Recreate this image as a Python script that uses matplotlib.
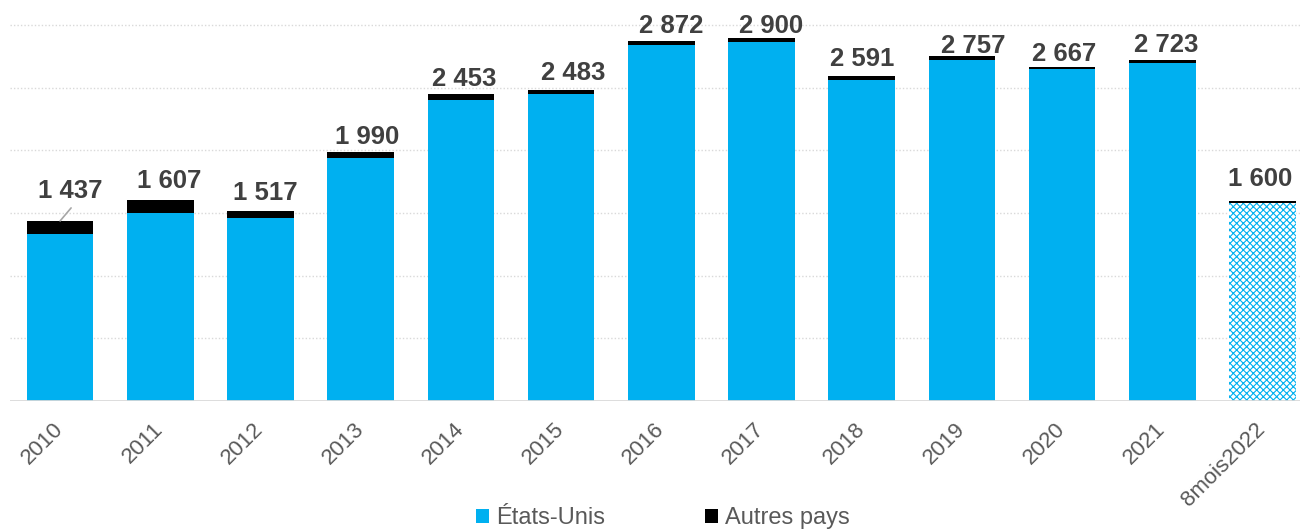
import matplotlib
matplotlib.use("Agg")
import matplotlib.pyplot as plt
from matplotlib.patches import Patch

# Data
categories = ["2010", "2011", "2012", "2013", "2014", "2015", "2016",
              "2017", "2018", "2019", "2020", "2021", "8mois2022"]
totals = [1437, 1607, 1517, 1990, 2453, 2483, 2872, 2900, 2591, 2757, 2667, 2723, 1600]
autres_pays = [101, 105, 55, 48, 53, 35, 32, 32, 32, 35, 21, 29, 16]
etats_unis = [t - a for t, a in zip(totals, autres_pays)]

# Label placement (pixels): horizontal shift and gap above the bar top
label_dx = [10, 9, 5, 6, 3, 12, 10, 10, 0, 11, 2, 4, -2]
label_dy = [23, 12, 11, 8, 8, 10, 8, 5, 10, 3, 6, 8, 15]

BLUE = "#00B0F0"
BLACK = "#000000"
GRID = "#D9D9D9"
LABEL = "#404040"
TICK = "#595959"

plt.rcParams["font.family"] = ["Liberation Sans", "DejaVu Sans"]
plt.rcParams["hatch.linewidth"] = 0.8

W, H, DPI = 1300, 529, 100
fig = plt.figure(figsize=(W / DPI, H / DPI), dpi=DPI)
ax = fig.add_axes([10 / W, (H - 401) / H, 1290 / W, 401 / H])

x = list(range(len(categories)))
width = 0.665
n_full = len(categories) - 1

# Full years: solid bars
ax.bar(x[:n_full], etats_unis[:n_full], width, color=BLUE, linewidth=0, zorder=3)
# Partial year: patterned bar
ax.bar(x[n_full:], etats_unis[n_full:], width, color="white", edgecolor=BLUE,
       hatch="xxxxx", linewidth=0, zorder=3)
ax.bar(x, autres_pays, width, bottom=etats_unis, color=BLACK, linewidth=0, zorder=3)

ax.set_xlim(-0.5, -0.5 + 1290 / 100.2)
ax.set_ylim(0, 3200)

# Gridlines
for v in range(500, 3001, 500):
    ax.axhline(v, color=GRID, linestyle=(0, (1, 1.5)), linewidth=1.0, zorder=1)
ax.axhline(0, color=GRID, linewidth=2.0, zorder=4)

for s in ax.spines.values():
    s.set_visible(False)
ax.set_yticks([])
ax.set_xticks(x)
ax.set_xticklabels(categories, rotation=45, ha="right", va="center",
                   rotation_mode="anchor", fontsize=16, color=TICK)
ax.tick_params(axis="x", length=0, pad=18)

# Total labels
for i, t in enumerate(totals):
    txt = f"{t:,}".replace(",", " ")
    ax.annotate(txt, xy=(i, t), xytext=(label_dx[i], label_dy[i]),
                textcoords="offset pixels", ha="center", va="baseline",
                fontsize=18.5, fontweight="bold", color=LABEL, zorder=5)

# Leader line for the first label
ax.annotate("", xy=(0, totals[0]), xytext=(11, 13), textcoords="offset pixels",
            arrowprops=dict(arrowstyle="-", color="#A6A6A6", lw=1.2,
                            shrinkA=0, shrinkB=0), zorder=5)

# Legend
handles = [Patch(facecolor=BLUE, edgecolor="none", label="États-Unis"),
           Patch(facecolor=BLACK, edgecolor="none", label="Autres pays")]
leg = fig.legend(handles=handles, loc="center", bbox_to_anchor=(663 / W, 1 - 518 / H),
                 ncol=2, frameon=False, fontsize=17, handlelength=0.55,
                 handleheight=0.55, handletextpad=0.3, columnspacing=4.2,
                 borderpad=0)
for t in leg.get_texts():
    t.set_color(TICK)

fig.savefig("out.png", dpi=DPI)
